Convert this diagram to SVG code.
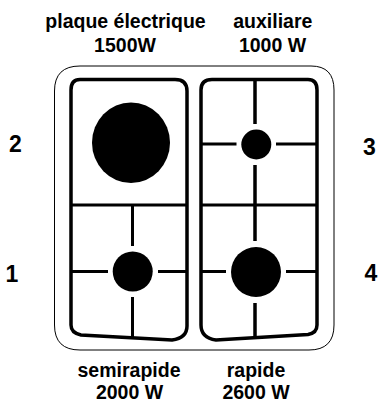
<svg xmlns="http://www.w3.org/2000/svg" width="378" height="402" viewBox="0 0 378 402">
<style>
.t{font-family:"Liberation Sans",Arial,sans-serif;font-weight:bold;font-size:19.500px;fill:#000;text-anchor:middle}
.n{font-size:23px}
.o{fill:none;stroke:#000;stroke-width:1}
.p{fill:none;stroke:#000;stroke-width:3.5}
.l{fill:none;stroke:#000;stroke-width:3}
</style>
<rect width="378" height="402" fill="#fff"/>
<g id="cooktop"><path class="o" d="M80 66H311Q334 66 334 90V325Q334 350 309 350H80Q54.500 350 54.500 325V91Q54.500 66 80 66Z"/></g>
<g id="panel-left"><path class="p" d="M80 79.500H175Q187 79.500 187 91V326Q187 338 172 340L81 335Q71 333 71 325V90Q71 79.500 80 79.500Z"/>
<path class="l" d="M71 205H187M132.500 205V246M132.500 297V338M72 271.500H108M158 271.500H186"/></g>
<g id="panel-right"><path class="p" d="M212 79.500H308Q317 79.500 317 90V325Q317 333 308 334.500L216 340Q201 338 201 325V90Q201 79.500 212 79.500Z"/>
<path class="l" d="M201 205H317M202 144H236.500M276 144H316M202 271.500H226M286 271.500H316"/>
<path class="p" d="M255 80V124M255 165V241M255 303V337"/></g>
<g id="burner-2"><ellipse cx="131" cy="142.700" rx="39" ry="40.300"/><text class="t n" x="15.500" y="151.500">2</text></g>
<g id="burner-3"><circle cx="256.300" cy="144.500" r="15"/><text class="t n" x="369.300" y="155">3</text></g>
<g id="burner-1"><circle cx="132.700" cy="271.500" r="20"/><text class="t n" x="12" y="281.500">1</text></g>
<g id="burner-4"><circle cx="256" cy="272" r="25"/><text class="t n" x="371" y="281">4</text></g>
<g id="labels">
<text class="t" x="125.500" y="27.500">plaque électrique</text><text class="t" x="125" y="51.500">1500W</text>
<text class="t" x="272.800" y="27.500">auxiliare</text><text class="t" x="272.500" y="51.500">1000 W</text>
<text class="t" x="129" y="376.500">semirapide</text><text class="t" x="129.500" y="399">2000 W</text>
<text class="t" x="256" y="376.500">rapide</text><text class="t" x="256" y="399">2600 W</text>
</g>
</svg>
